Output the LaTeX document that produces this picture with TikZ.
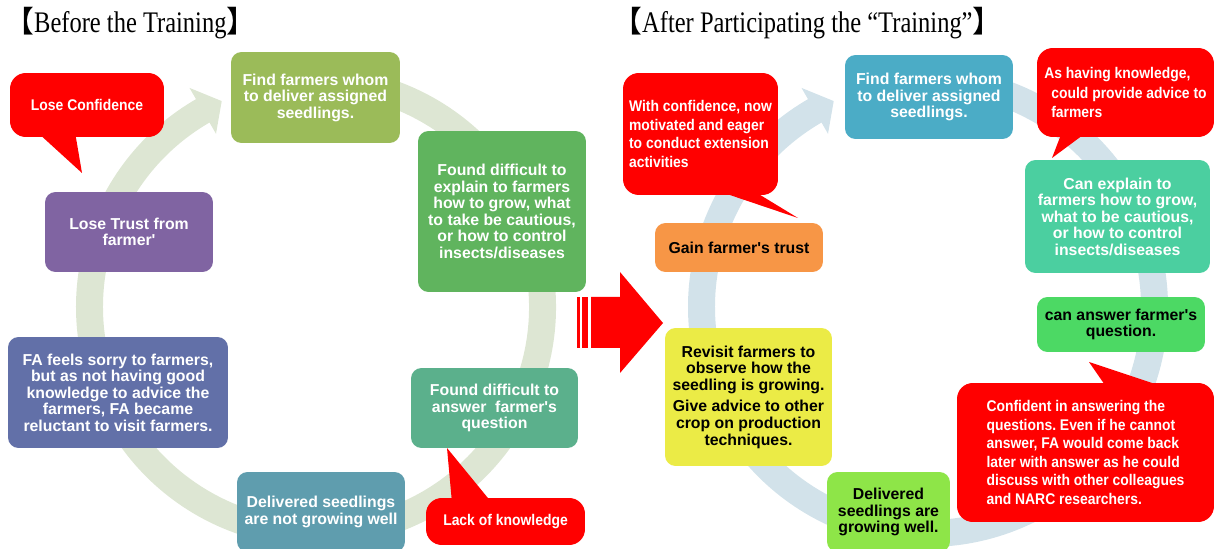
\documentclass[tikz,border=0pt]{standalone}
\usepackage{fontspec}
\setmainfont{Liberation Serif}
\setsansfont{Liberation Sans}[Ligatures=TeXOff]
\newfontfamily\titlefont{Liberation Serif}[FakeStretch=0.82]
\newfontfamily\bracketfont{Noto Sans CJK SC}
\newfontfamily\calloutfont{Liberation Sans}[FakeStretch=0.9]
\frenchspacing

\definecolor{ringgreen}{HTML}{DDE6D3}
\definecolor{ringblue}{HTML}{D2E2EA}
\definecolor{calloutred}{HTML}{FF0000}
\definecolor{olivebox}{HTML}{9BBB59}
\definecolor{purplebox}{HTML}{8064A2}
\definecolor{greenbox}{HTML}{60B45E}
\definecolor{slatebox}{HTML}{6270A8}
\definecolor{tealbox}{HTML}{5BB08C}
\definecolor{steelbox}{HTML}{5F9DAE}
\definecolor{bluebox}{HTML}{4BACC6}
\definecolor{orangebox}{HTML}{F79646}
\definecolor{mintbox}{HTML}{4BCFA0}
\definecolor{brightbox}{HTML}{4CD964}
\definecolor{yellowbox}{HTML}{EBEB46}
\definecolor{limebox}{HTML}{8EE548}

\tikzset{
  cyclebox/.style={rounded corners=6pt, inner sep=0pt, align=center, text=white,
    font=\sffamily\bfseries\fontsize{9}{9.4}\selectfont},
  darktext/.style={text=black},
  calloutbox/.style={rounded corners=9pt, fill=calloutred, inner sep=0pt, text=white,
    font=\calloutfont\bfseries\fontsize{8.8}{10.6}\selectfont},
  tail/.style={fill=calloutred},
  title/.style={anchor=west, inner sep=0pt, font=\titlefont\fontsize{17}{19}\selectfont}
}

\begin{document}
\begin{tikzpicture}[x=0.02cm, y=0.02cm]
    \useasboundingbox (0,0) rectangle (1214,548);
    % Titles
    \node[title] (titleL) at (4,525) {{\bracketfont 【}Before the Training{\bracketfont 】}};
    \node[title] (titleR) at (612,525) {{\bracketfont 【}After Participating the “Training”{\bracketfont 】}};
    % Cycle rings
    \coordinate (cL) at (316,241);
    \coordinate (cR) at (928,241);
    \draw[ringgreen, line width=0.54cm] ([shift={(100:226.5)}]cL) arc[start angle=100, end angle=-240.5, radius=226.5];
    \fill[ringgreen] ([shift={(120:253)}]cL) -- ([shift={(114.6:226.5)}]cL) -- ([shift={(120:200)}]cL) -- cycle;
    \draw[ringblue, line width=0.54cm] ([shift={(100:226.5)}]cR) arc[start angle=100, end angle=-240.5, radius=226.5];
    \fill[ringblue] ([shift={(120:253)}]cR) -- ([shift={(114.6:226.5)}]cR) -- ([shift={(120:200)}]cR) -- cycle;
    % Before the training
    \node[cyclebox, fill=olivebox, minimum width=3.38cm, minimum height=1.82cm] (findL) at (315.5,450.5)
        {Find farmers whom\\to deliver assigned\\seedlings.};
    \node[cyclebox, fill=greenbox, minimum width=3.36cm, minimum height=3.22cm] (explainL) at (502,336.5)
        {Found difficult to\\explain to farmers\\how to grow, what\\to take be cautious,\\or how to control\\insects/diseases};
    \node[cyclebox, fill=tealbox, minimum width=3.34cm, minimum height=1.6cm] (answerL) at (494.5,140)
        {Found difficult to\\answer\ \ farmer's\\question};
    \node[cyclebox, fill=steelbox, minimum width=3.36cm, minimum height=1.6cm] (deliverL) at (321,36)
        {Delivered seedlings\\are not growing well};
    \node[cyclebox, fill=slatebox, minimum width=4.4cm, minimum height=2.22cm] (sorryL) at (118,155.5)
        {FA feels sorry to farmers,\\but as not having good\\knowledge to advice the\\farmers, FA became\\reluctant to visit farmers.};
    \node[cyclebox, fill=purplebox, minimum width=3.36cm, minimum height=1.6cm] (trustL) at (129,316)
        {Lose Trust from\\farmer'};
    % Callouts before
    \coordinate (tipLose) at (82,375);
    \coordinate (tipLack) at (447,100);
    \fill[tail] (37,416) -- (tipLose) -- (75,416) -- cycle;
    \node[calloutbox, minimum width=3.08cm, minimum height=1.28cm] (loseConf) at (87,443) {Lose Confidence};
    \fill[tail] (452,45) -- (tipLack) -- (492,45) -- cycle;
    \node[calloutbox, minimum width=3.18cm, minimum height=0.94cm] (lackKnow) at (505.5,26.5) {Lack of knowledge};
    % Big arrow
    \fill[calloutred] (577,200) rectangle (580,251);
    \fill[calloutred] (582,200) rectangle (588,251);
    \fill[calloutred] (591,200) -- (620,200) -- (620,175) -- (663,225) -- (620,276) -- (620,251) -- (591,251) -- cycle;
    % After the training
    \node[cyclebox, fill=bluebox, minimum width=3.36cm, minimum height=1.68cm] (findR) at (929,451)
        {Find farmers whom\\to deliver assigned\\seedlings.};
    \node[cyclebox, fill=mintbox, minimum width=3.7cm, minimum height=2.26cm] (explainR) at (1117.5,331.5)
        {Can explain to\\farmers how to grow,\\what to be cautious,\\or how to control\\insects/diseases};
    \node[cyclebox, darktext, fill=brightbox, minimum width=3.36cm, minimum height=1.1cm] (answerR) at (1121,223.5)
        {can answer farmer's\\question.};
    \node[cyclebox, darktext, fill=limebox, minimum width=2.46cm, minimum height=1.6cm] (deliverR) at (888.5,36)
        {Delivered\\seedlings are\\growing well.};
    \node[cyclebox, darktext, fill=yellowbox, minimum width=3.34cm, minimum height=2.76cm] (revisitR) at (748.5,151)
        {Revisit farmers to\\observe how the\\seedling is growing.\\[3pt]Give advice to other\\crop on production\\techniques.};
    \node[cyclebox, darktext, fill=orangebox, minimum width=3.36cm, minimum height=0.98cm] (gainR) at (739,300.5)
        {Gain farmer's trust};
    % Callouts after
    \coordinate (tipWith) at (798,330);
    \coordinate (tipHaving) at (1052,390);
    \coordinate (tipConf) at (1089,186);
    \fill[tail] (715,358) -- (tipWith) -- (752,358) -- cycle;
    \node[calloutbox, align=left, minimum width=3.1cm, minimum height=2.44cm] (withConf) at (700.5,414)
        {With confidence, now\\motivated and eager\\to conduct extension\\activities};
    \fill[tail] (1062,416) -- (tipHaving) -- (1087,416) -- cycle;
    \node[calloutbox, align=left, minimum width=3.54cm, minimum height=1.78cm,
        font=\calloutfont\bfseries\fontsize{8.8}{11}\selectfont] (asHaving) at (1125.5,455.5)
        {As having knowledge,\\\hspace*{4pt}could provide advice to\\\hspace*{4pt}farmers};
    \fill[tail] (1107,160) -- (tipConf) -- (1167,160) -- cycle;
    \node[calloutbox, align=left, minimum width=5.14cm, minimum height=2.78cm] (confident) at (1085.5,95.5)
        {Confident in answering the\\questions. Even if he cannot\\answer, FA would come back\\later with answer as he could\\discuss with other colleagues\\and NARC researchers.};
\end{tikzpicture}
\end{document}
